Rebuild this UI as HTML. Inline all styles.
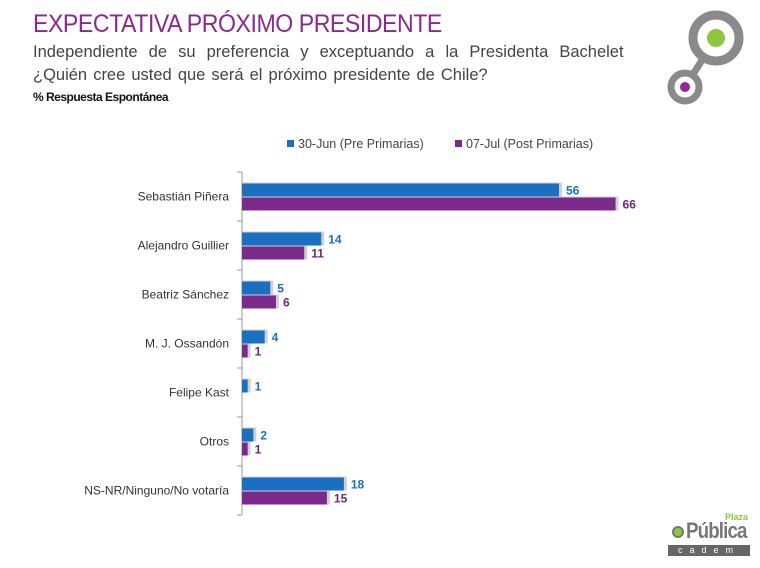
<!DOCTYPE html>
<html><head><meta charset="utf-8"><style>
body{margin:0;width:760px;height:568px;background:#fff;font-family:"Liberation Sans",sans-serif;position:relative;overflow:hidden}
.t{position:absolute;white-space:nowrap}
</style></head><body>
<div class="t" style="left:33px;top:10px;font-size:25px;color:#8b2a8b;letter-spacing:-0.5px;transform:scaleX(0.925);transform-origin:left top">EXPECTATIVA PRÓXIMO PRESIDENTE</div>
<div class="t" style="left:33px;top:43px;font-size:16.5px;color:#444;word-spacing:6.5px">Independiente de su preferencia y exceptuando a la Presidenta Bachelet</div>
<div class="t" style="left:33px;top:66px;font-size:16.5px;color:#444;word-spacing:1.5px">¿Quién cree usted que será el próximo presidente de Chile?</div>
<div class="t" style="left:33px;top:90px;font-size:12px;font-weight:bold;color:#111;letter-spacing:-0.5px">% Respuesta Espontánea</div>
<svg style="position:absolute;left:660px;top:5px" width="100" height="110">
<line x1="56" y1="33" x2="25" y2="82" stroke="#8a8a8a" stroke-width="7"/>
<circle cx="56" cy="33" r="23" fill="#fff" stroke="#8a8a8a" stroke-width="9"/>
<circle cx="56" cy="33" r="9" fill="#8dc63f"/>
<circle cx="25" cy="82" r="14" fill="#fff" stroke="#8a8a8a" stroke-width="7"/>
<circle cx="25" cy="82" r="5" fill="#93278f"/>
</svg>
<svg id="chart" style="position:absolute;left:0;top:0" width="760" height="568"></svg>
<div class="t" style="left:668px;top:512px;width:82px;height:46px">
<span style="position:absolute;right:2px;top:0;font-size:9px;color:#8dc63f;font-weight:bold">Plaza</span>
<span style="position:absolute;left:18px;top:6px;font-size:22px;color:#777;font-weight:bold;letter-spacing:-1px;transform:scaleX(0.85);transform-origin:left top">Pública</span>
<span style="position:absolute;left:4px;top:14px;width:8px;height:8px;border-radius:50%;border:2px solid #777;background:#8dc63f"></span>
<div style="position:absolute;left:0;top:33px;width:82px;height:11px;background:#666;color:#fff;font-size:9px;letter-spacing:7px;text-align:center;line-height:11px">cadem</div>
</div>
<script>
const categories=["Sebastián Piñera","Alejandro Guillier","Beatriz Sánchez","M. J. Ossandón","Felipe Kast","Otros","NS-NR/Ninguno/No votaría"];
const series1=[56,14,5,4,1,2,18];
const series2=[66,11,6,1,null,1,15];
const seriesNames=["30-Jun (Pre  Primarias)","07-Jul (Post Primarias)"];
const colors=["#1a6fc1","#7b2a8b"];
const labelColors=["#1a6fc1","#6a2a7b"];
const svg=document.getElementById('chart');
const NS='http://www.w3.org/2000/svg';
const x0=242,scale=5.66,top0=172,band=49;
const xs=v=>x0+v*scale;
const yc=i=>top0+band*(i+0.5);
function mk(t,a){const e=document.createElementNS(NS,t);for(const k in a)e.setAttribute(k,a[k]);svg.appendChild(e);return e;}
let ax=mk('line',{x1:x0,y1:top0,x2:x0,y2:top0+band*categories.length,stroke:'#999','stroke-width':1});


for(let i=0;i<=categories.length;i++){
 let tk=mk('line',{x1:x0-5,y1:top0+band*i,x2:x0,y2:top0+band*i,stroke:'#999'});
 
 
}
categories.forEach((c,i)=>{
 let t=mk('text',{x:229,y:yc(i)+4,'text-anchor':'end','font-size':12,fill:'#333','font-family':'Liberation Sans, sans-serif'});
 t.textContent=c;
 
 
 [series1,series2].forEach((s,k)=>{
  const v=s[i]; if(v==null)return;
  const y=k==0?yc(i)-13:yc(i)+1;
  const w=xs(v)-x0;
  let sh=mk('rect',{x:x0,y:y-1,width:w+3,height:14,fill:'#d0d0d0'});
  
  
  let r=mk('rect',{x:x0,y:y,width:w,height:13,fill:colors[k]});
  
  
  let l=mk('text',{x:xs(v)+7,y:y+11,'font-size':12,'font-weight':'bold',fill:labelColors[k],'font-family':'Liberation Sans, sans-serif'});
  l.textContent=v;
  
  
 });
});
const lx=[287,455];
seriesNames.forEach((n,k)=>{
 let r=mk('rect',{x:lx[k],y:140,width:7,height:7,fill:colors[k]});
 
 
 let t=mk('text',{x:lx[k]+11,y:148,'font-size':12.5,fill:'#444','font-family':'Liberation Sans, sans-serif'});
 t.textContent=n;
 
 
});
</script>
</body></html>
